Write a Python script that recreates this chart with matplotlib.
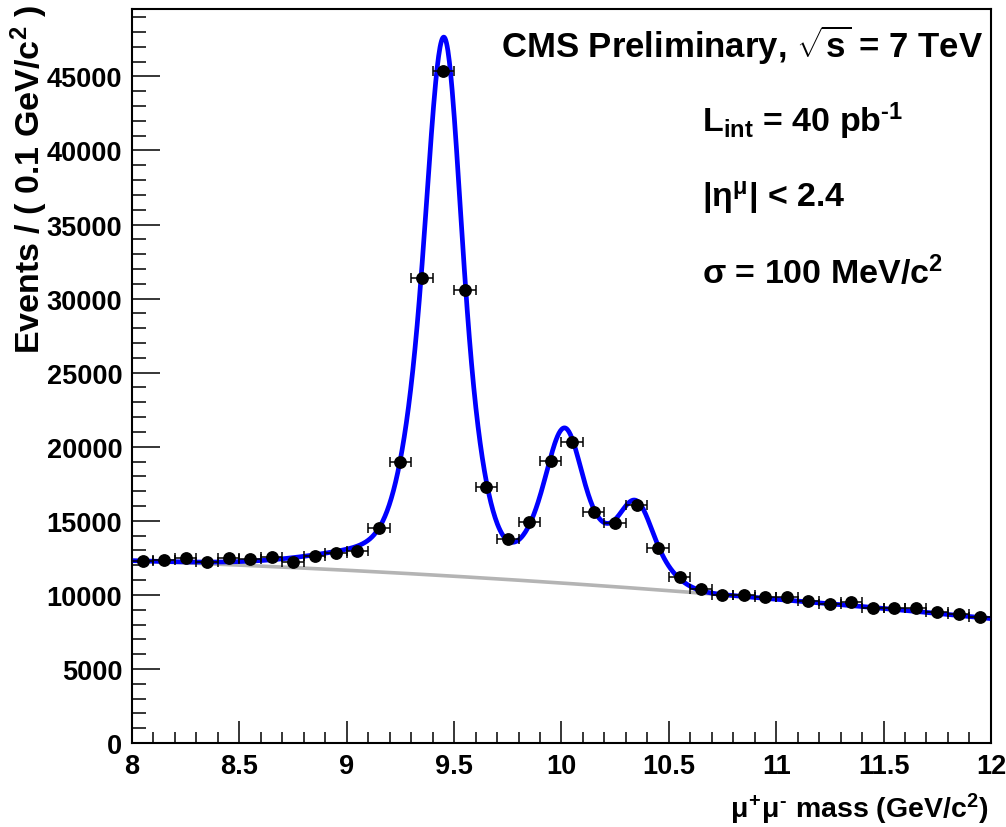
import numpy as np
import matplotlib
matplotlib.use("Agg")
import matplotlib.pyplot as plt
from matplotlib.ticker import MultipleLocator, FuncFormatter

# dimuon mass spectrum, 0.1 GeV bins
bin_centers = [8.05, 8.15, 8.25, 8.35, 8.45, 8.55, 8.65, 8.75, 8.85, 8.95,
               9.05, 9.15, 9.25, 9.35, 9.45, 9.55, 9.65, 9.75, 9.85, 9.95,
               10.05, 10.15, 10.25, 10.35, 10.45, 10.55, 10.65, 10.75, 10.85, 10.95,
               11.05, 11.15, 11.25, 11.35, 11.45, 11.55, 11.65, 11.75, 11.85, 11.95]
events = [12300, 12350, 12470, 12240, 12490, 12420, 12530, 12240, 12640, 12800,
          12940, 14490, 18950, 31400, 45350, 30550, 17280, 13800, 14900, 19060,
          20290, 15620, 14840, 16070, 13160, 11190, 10390, 9990, 9990, 9830,
          9870, 9610, 9380, 9490, 9090, 9090, 9090, 8820, 8710, 8530]
bin_half_width = 0.05

# fit result: Upsilon(1S,2S,3S) peaks on a quadratic background
peak_mass = [9.452, 10.013, 10.347]
peak_height = [35990, 10131, 5698]
core_sigma = [0.065, 0.069, 0.065]
wide_sigma = [0.125, 0.1325, 0.125]
tail_sigma = [0.45, 0.477, 0.45]
shape_frac = [0.385, 0.554, 0.061]   # core, wide, low-mass tail
bkg_coef = [10800, -975, -112.5]     # in (m - 10)


def background(m):
    t = m - 10.0
    return bkg_coef[0] + bkg_coef[1] * t + bkg_coef[2] * t ** 2


def peak(m, i):
    d = m - peak_mass[i]
    fc, fw, ft = shape_frac
    core = fc * np.exp(-d ** 2 / (2 * core_sigma[i] ** 2))
    wide = fw * np.exp(-d ** 2 / (2 * wide_sigma[i] ** 2))
    tail = np.where(d < 0, ft * np.exp(-d ** 2 / (2 * tail_sigma[i] ** 2)),
                    ft * np.exp(-d ** 2 / (2 * core_sigma[i] ** 2)))
    return peak_height[i] * (core + wide + tail)


plt.rcParams["font.family"] = ["Liberation Sans", "DejaVu Sans"]
plt.rcParams["font.weight"] = "bold"
plt.rcParams["mathtext.fontset"] = "custom"
plt.rcParams["mathtext.rm"] = "Liberation Sans:bold"
plt.rcParams["mathtext.bf"] = "Liberation Sans:bold"
plt.rcParams["mathtext.it"] = "Liberation Sans:bold"
plt.rcParams["mathtext.sf"] = "Liberation Sans"

fig = plt.figure(figsize=(10.06, 8.28), dpi=100)
ax = fig.add_axes([0.1312, 0.1014, 0.8538, 0.8866])

m = np.linspace(8, 12, 1200)
bkg = background(m)
total = bkg + sum(peak(m, i) for i in range(3))

ax.plot(m, bkg, color="#b4b4b4", lw=2.6, zorder=2)
ax.plot(m, total, color="#0000ff", lw=3.4, zorder=3)
ax.errorbar(bin_centers, events, xerr=bin_half_width, fmt="o", color="black",
            ms=8.2, elinewidth=1.1, capsize=3.8, capthick=1.1, zorder=4)

ax.set_xlim(8, 12)
ax.set_ylim(0, 49550)
ax.xaxis.set_major_locator(MultipleLocator(0.5))
ax.xaxis.set_minor_locator(MultipleLocator(0.1))
ax.yaxis.set_major_locator(MultipleLocator(5000))
ax.yaxis.set_minor_locator(MultipleLocator(1000))
ax.xaxis.set_major_formatter(FuncFormatter(lambda v, p: f"{v:g}"))
ax.yaxis.set_major_formatter(FuncFormatter(lambda v, p: f"{v:.0f}"))
ax.tick_params(axis="x", which="major", direction="in", length=16, width=1.1, pad=7)
ax.tick_params(axis="x", which="minor", direction="in", length=8, width=1.1)
ax.tick_params(axis="y", which="major", direction="in", length=20, width=1.1, pad=7)
ax.tick_params(axis="y", which="minor", direction="in", length=10, width=1.1)
ax.tick_params(top=False, right=False, which="both")
for spine in ax.spines.values():
    spine.set_linewidth(1.5)

for lab in ax.get_xticklabels() + ax.get_yticklabels():
    lab.set_fontweight("bold")
    lab.set_fontsize(19.5)

fig.text(0.982, 0.012, "$\\mu^{+}\\mu^{\u2010}$ mass (GeV/c$^{2}$)", ha="right",
         va="baseline", fontsize=20.5, weight="bold")
fig.text(0.029, 0.994, r"Events / ( 0.1 GeV/c$^{2}$ )", rotation=90, ha="center",
         va="top", fontsize=24.5, weight="bold")

fig.text(0.977, 1 - 58 / 828, r"CMS Preliminary, $\sqrt{s}$ = 7 TeV", ha="right",
         va="baseline", fontsize=25, weight="bold")
fig.text(0.698, 1 - 132 / 828, "L$_{\\mathrm{int}}$ = 40 pb$^{\u20101}$", ha="left",
         va="baseline", fontsize=24.5, weight="bold")
fig.text(0.698, 1 - 207 / 828, r"|$\mathsf{\eta}^{\mathsf{\mu}}$| < 2.4", ha="left",
         va="baseline", fontsize=24.5, weight="bold")
fig.text(0.698, 1 - 284 / 828, r"$\mathsf{\sigma}$ = 100 MeV/c$^{\mathrm{2}}$", ha="left",
         va="baseline", fontsize=24.5, weight="bold")

fig.savefig("out.png", dpi=100)
